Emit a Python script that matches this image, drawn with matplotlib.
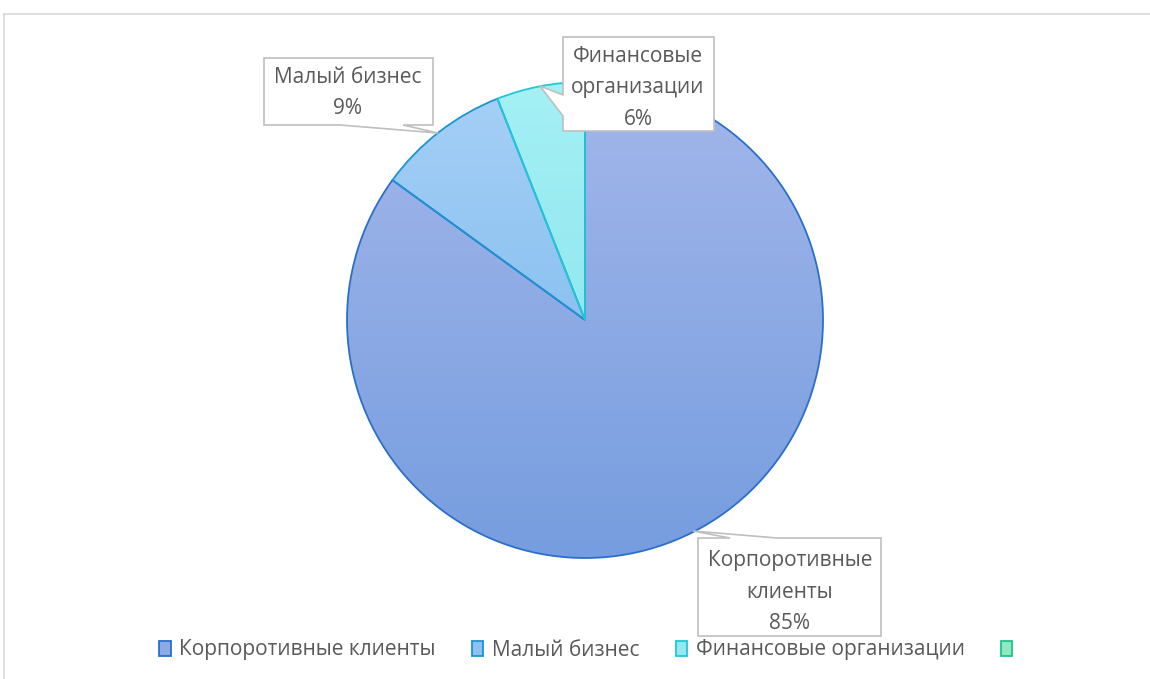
import numpy as np
import matplotlib.pyplot as plt
from matplotlib.patches import Polygon, Patch
from matplotlib.colors import LinearSegmentedColormap

categories = ['Корпоротивные клиенты', 'Малый бизнес', 'Финансовые организации']
box_names = ['Корпоротивные\nклиенты', 'Малый бизнес', 'Финансовые\nорганизации']
shares = [85, 9, 6]

# gradient top/bottom colours and edge colours for each slice
top_cols = ['#a3b7ea', '#a6d0f7', '#a4f0f5']
bot_cols = ['#769ddf', '#72b3ea', '#80e0e8']
edge_cols = ['#2a6fc9', '#1c93d3', '#22c7d6']

W, H = 1150, 679
plt.rcParams['font.family'] = ['Open Sans', 'DejaVu Sans']
fig = plt.figure(figsize=(W / 100, H / 100), dpi=100)
ax = fig.add_axes([0, 0, 1, 1])


def P(x, y):
    # pixel coords (y down) -> axes data coords (y up)
    return x, H - y


cx, cy = P(585, 320)
r = 238

wedges, _ = ax.pie(shares, startangle=90, counterclock=False, center=(cx, cy),
                   radius=r, wedgeprops=dict(linewidth=1.3))
g = np.linspace(0, 1, 256).reshape(-1, 1)
for w, t, b, e in zip(wedges, top_cols, bot_cols, edge_cols):
    w.set_facecolor('none')
    w.set_edgecolor(e)
    w.set_zorder(3)
    cmap = LinearSegmentedColormap.from_list('', [b, t])
    im = ax.imshow(g, cmap=cmap, origin='lower', aspect='auto', zorder=2,
                   extent=[cx - r, cx + r, cy - r, cy + r])
    im.set_clip_path(w)

# chart frame
ax.plot(*zip(P(4, 14), P(W, 14)), color='#d9d9d9', lw=1.2, zorder=1)
ax.plot(*zip(P(4, 14), P(4, H)), color='#d9d9d9', lw=1.2, zorder=1)

# data label callouts (outline incl. pointer, text lines centre)
callouts = [
    ([(698, 538), (730, 538), (693, 531), (777, 538), (881, 538), (881, 636), (698, 636)],
     (790, 592)),
    ([(264, 58), (433, 58), (433, 125), (403, 125), (438, 133), (340, 125), (264, 125)],
     (348, 93)),
    ([(563, 37), (714, 37), (714, 131), (563, 131), (563, 116), (540, 86), (563, 95)],
     (638, 88)),
]
for (pts, (tx, ty)), name, val in zip(callouts, box_names, shares):
    ax.add_patch(Polygon([P(x, y) for x, y in pts], closed=True, facecolor='white',
                         edgecolor='#bfbfbf', lw=1.2, zorder=5))
    ax.text(*P(tx, ty), f'{name}\n{val}%', ha='center', va='center', fontsize=15,
            color='#595959', linespacing=1.68, zorder=6)

handles = [Patch(facecolor=c, edgecolor=e, lw=1.3)
           for c, e in zip(['#8eaae4', '#8cc2f0', '#93e9ef', '#8ee8c0'],
                           edge_cols + ['#20c090'])]
fig.legend(handles, categories + [''], loc='center', bbox_to_anchor=(590 / W, 1 - 650 / H),
           ncol=4, frameon=False, fontsize=15, labelcolor='#595959',
           handlelength=0.55, handleheight=0.75, handletextpad=0.4, columnspacing=1.75)

ax.set_xlim(0, W)
ax.set_ylim(0, H)
ax.set_aspect('auto')
ax.axis('off')
fig.savefig('out.png', dpi=100)
